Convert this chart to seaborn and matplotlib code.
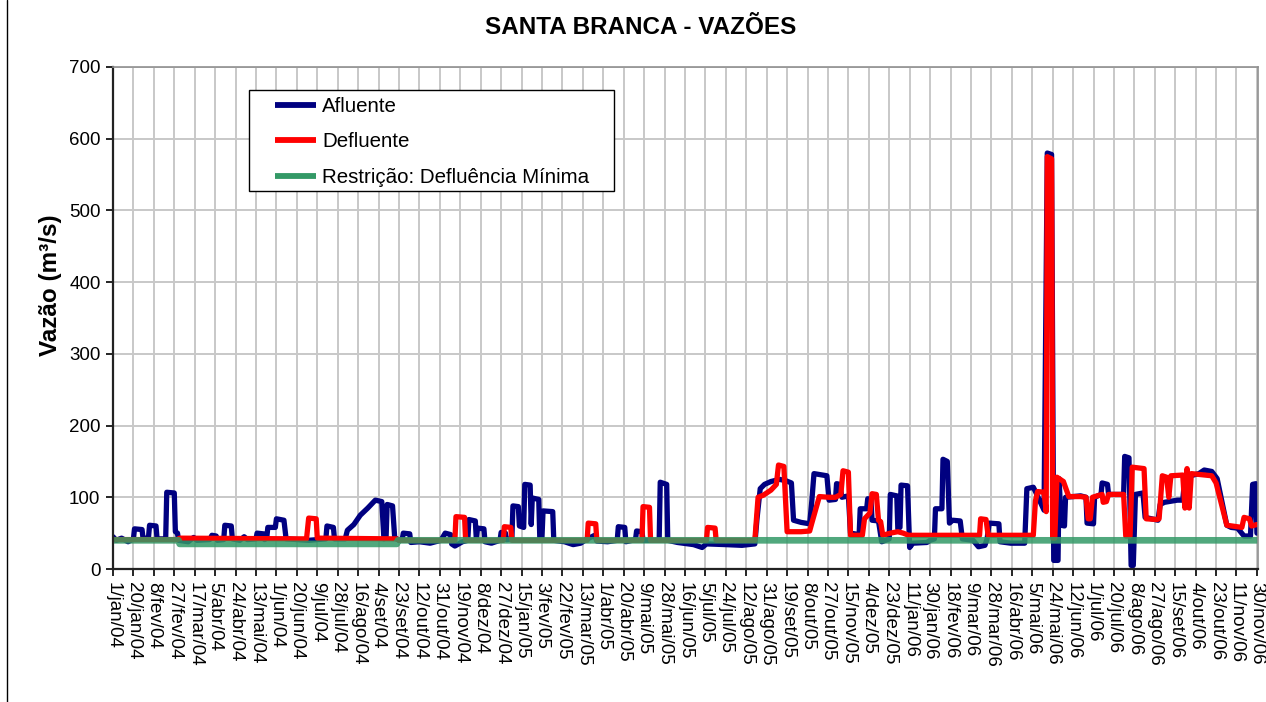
import numpy as np
import pandas as pd
import matplotlib
matplotlib.use("Agg")
import matplotlib.pyplot as plt
import seaborn as sns
from matplotlib.lines import Line2D
from matplotlib.patches import Rectangle

# ---------------- data ----------------
title = "SANTA BRANCA - VAZÕES"
y_label = "Vazão (m³/s)"
series_names = ["Afluente", "Defluente", "Restrição: Defluência Mínima"]
start_date = "2004-01-01"
end_date = "2006-11-30"
tick_step_days = 19
month_abbr = ["jan", "fev", "mar", "abr", "mai", "jun",
              "jul", "ago", "set", "out", "nov", "dez"]
y_ticks = [0, 100, 200, 300, 400, 500, 600, 700]

# breakpoints: day offset from 1/jan/04 and flow (m3/s)
afluente_days = [0, 3, 8, 14, 19, 20, 27, 28, 33, 34, 40, 41, 49, 50, 57, 58, 60, 61,
                 70, 75, 78, 90, 92, 96, 97, 103, 104, 110, 111, 118, 122, 125, 133, 134,
                 140, 141, 143, 144, 151, 152, 159, 161, 182, 190, 198, 199, 205, 206, 216,
                 218, 224, 230, 237, 244, 250, 252, 254, 255, 260, 262, 266, 269, 270, 276,
                 277, 285, 295, 305, 309, 314, 315, 318, 325, 330, 331, 337, 338, 339, 345,
                 346, 352, 360, 361, 365, 366, 371, 372, 377, 378, 382, 383, 388, 389, 390,
                 396, 397, 399, 400, 409, 410, 420, 428, 435, 440, 448, 450, 460, 469, 470,
                 476, 477, 486, 487, 492, 493, 508, 509, 515, 516, 525, 540, 548, 552, 570,
                 585, 597, 599, 602, 606, 612, 620, 626, 631, 633, 640, 648, 650, 652, 664,
                 666, 672, 673, 676, 678, 684, 686, 694, 695, 701, 702, 705, 706, 712, 715,
                 722, 723, 729, 730, 732, 733, 739, 741, 744, 757, 760, 764, 765, 771, 772,
                 776, 778, 781, 788, 790, 800, 805, 811, 813, 815, 824, 825, 835, 848, 850,
                 856, 858, 866, 869, 873, 875, 879, 880, 882, 885, 886, 900, 905, 906, 912,
                 913, 919, 920, 925, 926, 940, 941, 945, 947, 949, 951, 958, 960, 972, 974,
                 978, 990, 995, 997, 1010, 1015, 1022, 1027, 1036, 1040, 1046, 1052, 1058,
                 1060, 1063, 1064]
afluente_vals = [45, 40, 43, 38, 42, 56, 55, 42, 44, 61, 60, 42, 42, 107, 106, 52, 50, 40,
                 38, 44, 40, 41, 47, 46, 40, 41, 61, 60, 42, 40, 45, 41, 42, 50,
                 49, 41, 43, 58, 58, 70, 68, 42, 40, 41, 42, 60, 58, 42, 42,
                 54, 62, 75, 85, 96, 94, 42, 44, 90, 88, 44, 40, 41, 50, 49,
                 37, 38, 36, 40, 50, 48, 35, 32, 38, 40, 69, 67, 40, 57, 56,
                 38, 36, 40, 51, 50, 41, 42, 88, 87, 60, 58, 118, 117, 62, 99,
                 97, 42, 44, 81, 80, 40, 38, 34, 36, 41, 47, 39, 38, 40, 59,
                 58, 38, 41, 53, 52, 40, 40, 121, 118, 40, 37, 34, 30, 35, 34,
                 33, 35, 70, 112, 118, 122, 125, 123, 120, 68, 65, 63, 95, 133, 130,
                 96, 97, 119, 118, 100, 102, 50, 48, 84, 84, 98, 97, 68, 67, 38,
                 42, 104, 102, 56, 58, 117, 116, 30, 36, 37, 40, 42, 84, 84, 153,
                 150, 64, 68, 67, 42, 40, 31, 33, 42, 64, 63, 38, 36, 36, 112,
                 114, 108, 82, 580, 578, 12, 12, 126, 61, 60, 100, 102, 100, 64, 63,
                 100, 104, 120, 118, 104, 104, 157, 155, 5, 5, 104, 106, 72, 68, 90,
                 93, 96, 96, 128, 133, 138, 136, 126, 61, 58, 57, 46, 46,
                 118, 119, 50]

defluente_days = [0, 60, 62, 180, 182, 189, 190, 264, 266, 318, 319, 327, 328, 363, 364,
                  370, 371, 441, 442, 449, 450, 492, 493, 499, 500, 552, 553, 560, 561,
                  597, 600, 605, 612, 617, 619, 624, 627, 640, 648, 650, 657, 666, 672,
                  677, 679, 684, 686, 697, 699, 704, 706, 710, 712, 714, 716, 723, 730,
                  735, 740, 806, 807, 812, 814, 856, 858, 860, 866, 868, 869, 873, 874,
                  876, 878, 884, 889, 900, 905, 907, 909, 911, 920, 921, 924, 926, 940,
                  942, 946, 948, 959, 961, 971, 973, 976, 980, 982, 984, 995, 997, 999,
                  1001, 1003, 1022, 1026, 1036, 1050, 1052, 1057, 1059, 1064]
defluente_vals = [41, 41, 43, 42, 71, 70, 43, 42, 40, 40, 73, 72, 40, 40, 59,
                  58, 40, 40, 64, 63, 40, 40, 87, 86, 40, 40, 58, 57, 40,
                  40, 100, 103, 110, 118, 145, 143, 52, 52, 53, 64, 101, 100, 100,
                  104, 137, 135, 47, 47, 70, 78, 105, 104, 68, 66, 47, 50, 52,
                  50, 47, 47, 70, 69, 47, 47, 95, 108, 107, 80, 575, 572, 43,
                  43, 128, 122, 101, 101, 100, 70, 70, 100, 104, 93, 94, 104, 104,
                  46, 46, 142, 140, 70, 69, 70, 130, 128, 100, 130, 131, 85, 140,
                  85, 133, 130, 120, 61, 58, 72, 70, 60, 62]

restricao_days = [0, 61, 62, 264, 265, 1064]
restricao_vals = [40, 40, 35, 35, 40, 40]

colors = {"Afluente": "#000080", "Defluente": "#FF0000",
          "Restrição: Defluência Mínima": "#339966"}

# ---------------- build frames ----------------
t0 = pd.Timestamp(start_date)
def frame(days, vals):
    return pd.DataFrame({"data": t0 + pd.to_timedelta(days, unit="D"), "vazao": vals})

frames = [frame(afluente_days, afluente_vals),
          frame(defluente_days, defluente_vals),
          frame(restricao_days, restricao_vals)]

# ---------------- style ----------------
sns.set_theme(style="white", rc={"text.color": "black", "axes.labelcolor": "black",
                                 "xtick.color": "black", "ytick.color": "black"})
plt.rcParams["font.family"] = ["Liberation Sans", "DejaVu Sans"]

W, H = 1266, 702
fig = plt.figure(figsize=(W / 100, H / 100), dpi=100)
ax = fig.add_axes([113 / W, 1 - 569 / H, (1258 - 113) / W, (569 - 67) / H])

widths = [3.8, 3.8, 4.8]
alphas = [1.0, 1.0, 0.85]
for name, df, lw, al in zip(series_names, frames, widths, alphas):
    sns.lineplot(data=df, x="data", y="vazao", ax=ax, color=colors[name],
                 linewidth=lw, alpha=al, estimator=None, sort=False,
                 label=name, legend=False)

# x axis
tick_dates = pd.date_range(start_date, end_date, freq=f"{tick_step_days}D")
tick_labels = [f"{d.day}/{month_abbr[d.month - 1]}/{d.year % 100:02d}" for d in tick_dates]
ax.set_xlim(t0, pd.Timestamp(end_date) + pd.Timedelta(days=1))
ax.set_xticks(tick_dates)
ax.set_xticklabels(tick_labels, rotation=-90, ha="center", va="top", fontsize=13.5)

# y axis
ax.set_ylim(0, 700)
ax.set_yticks(y_ticks)
ax.set_yticklabels([str(v) for v in y_ticks], fontsize=13.5)
ax.set_xlabel("")
ax.set_ylabel(y_label, fontsize=17.5, fontweight="bold")
ax.yaxis.set_label_coords(-(113 - 62) / 1145, (569 - 285) / 502)

ax.grid(True, color="#c8c8c8", linewidth=1.4)
ax.set_axisbelow(True)
ax.tick_params(axis="both", which="both", direction="out", length=5, width=1.2,
               color="black", left=True, bottom=True, pad=4)
for s in ["left", "bottom"]:
    ax.spines[s].set_color("#222222")
    ax.spines[s].set_linewidth(1.6)
for s in ["top", "right"]:
    ax.spines[s].set_color("#909090")
    ax.spines[s].set_linewidth(1.2)

fig.text(641 / W, 1 - 28 / H, title, ha="center", va="center",
         fontsize=17.5, fontweight="bold", color="black")

# legend (frame drawn separately to match the wide padding)
handles = [Line2D([0], [0], color=colors[n], linewidth=4.2, solid_capstyle="butt")
           for n in series_names]
leg = ax.legend(handles, series_names, loc="upper left",
                bbox_to_anchor=((275 - 113) / 1145, (569 - 97) / 502),
                borderaxespad=0, borderpad=0, fontsize=14.8, handlelength=2.0,
                handletextpad=0.3, labelspacing=0.8, frameon=False)
box = Rectangle(((249 - 113) / 1145, (569 - 191) / 502), (614 - 249) / 1145, (191 - 90) / 502,
                transform=ax.transAxes, facecolor="white", edgecolor="black",
                linewidth=1.0, zorder=4.5)
ax.add_patch(box)
leg.set_zorder(5)

# chart border (left edge visible in reference)
fig.add_artist(Line2D([7 / W, 7 / W], [0, 1], color="black", linewidth=1.0,
                      transform=fig.transFigure))

fig.savefig("out.png", dpi=100)
